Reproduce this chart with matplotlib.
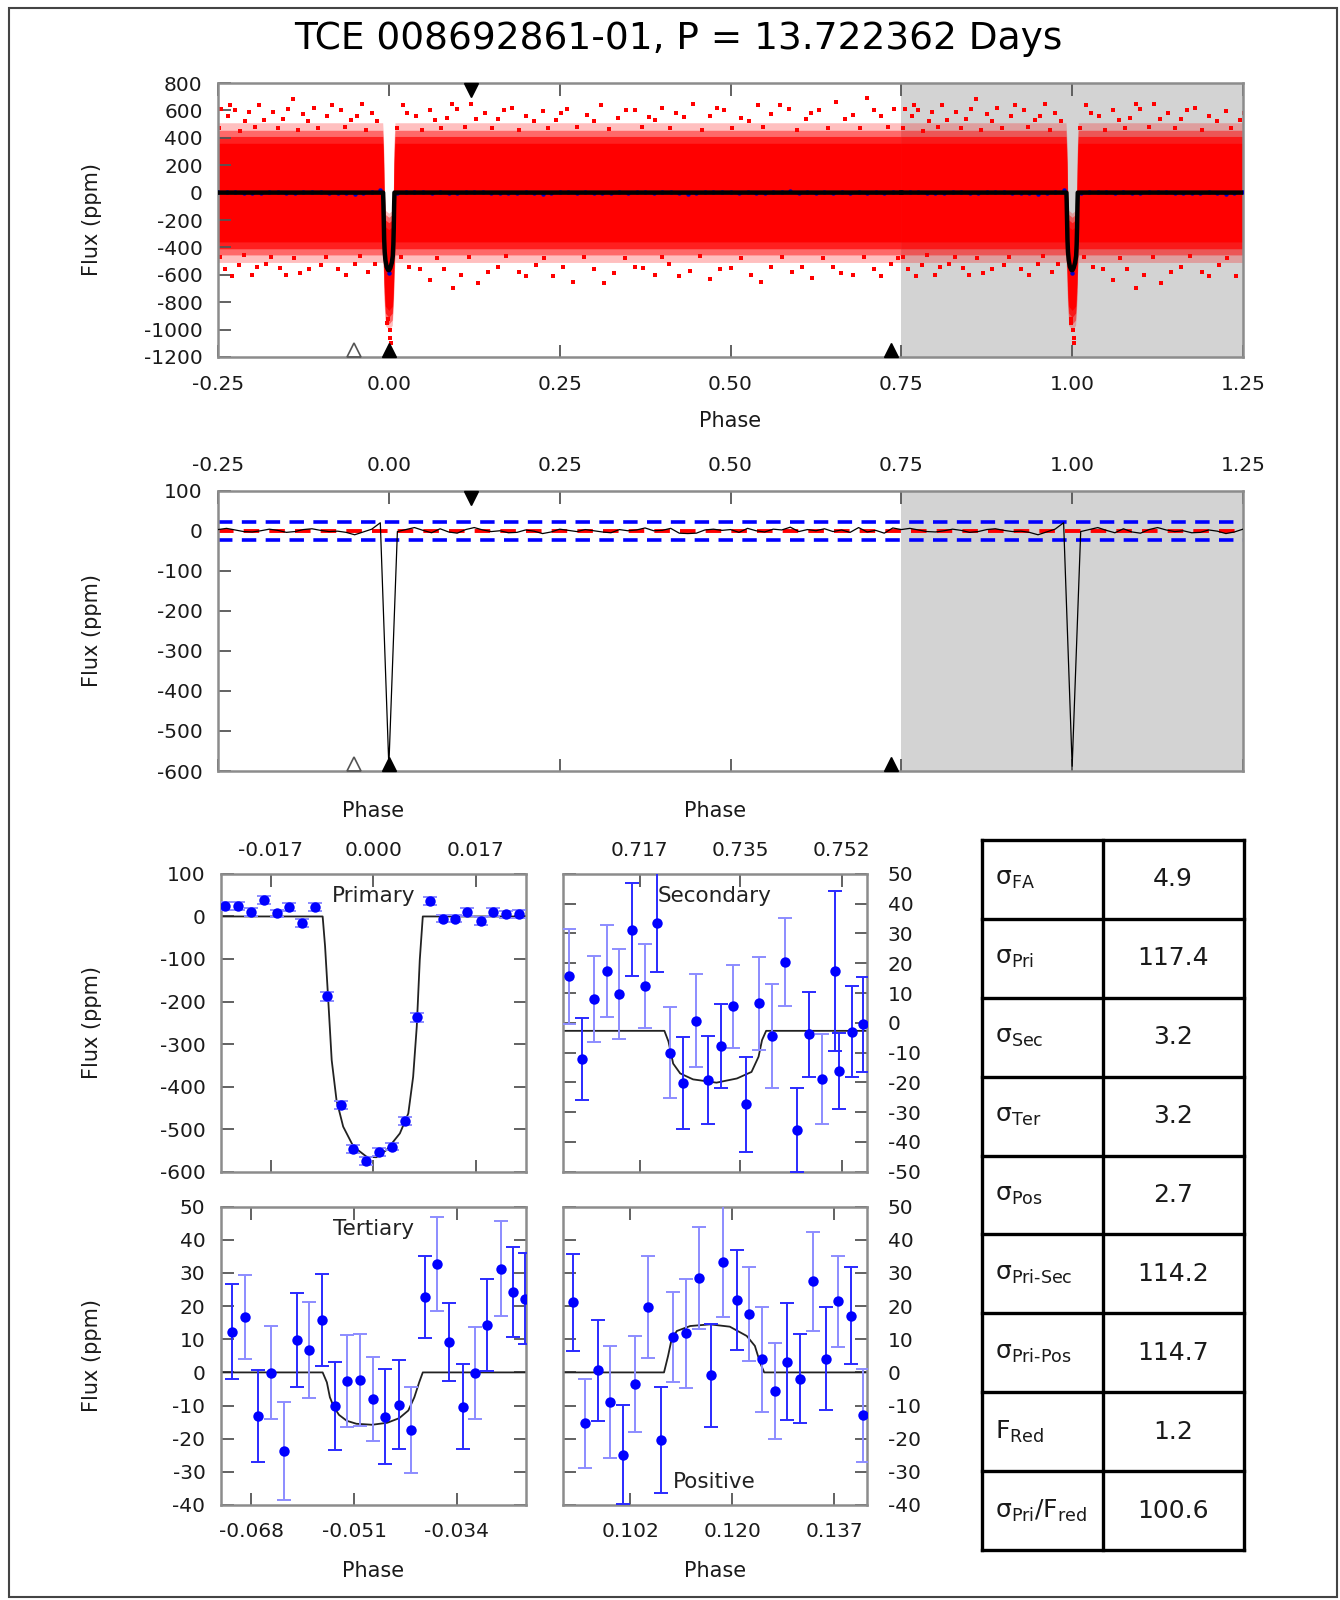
import numpy as np
import matplotlib
matplotlib.use("Agg")
import matplotlib.pyplot as plt
import matplotlib.transforms as mtransforms
from matplotlib.patches import Rectangle

plt.rcParams['font.family'] = ['DejaVu Sans']
plt.rcParams['mathtext.fontset'] = 'dejavusans'
plt.rcParams['axes.unicode_minus'] = False

TITLE = "TCE 008692861-01, P = 13.722362 Days"

# ---------------- event phases (triangle markers) ----------------
phase_primary = 0.0
phase_secondary = 0.735
phase_tertiary = -0.051
phase_positive = 0.120

# ---------------- top panel: red cloud envelopes (one period) ----------------
band_phase = [-0.25, -0.0090, -0.0078, -0.0068, -0.0050, 0.0, 0.0050, 0.0068, 0.0078, 0.0090, 0.75]
core_hi = [360, 360, 220, -100, -250, -270, -250, -100, 220, 360, 360]
core_lo = [-360, -360, -440, -660, -830, -860, -830, -660, -440, -360, -360]
mid_hi = [410, 410, 290, -30, -200, -220, -200, -30, 290, 410, 410]
mid_lo = [-410, -410, -500, -720, -880, -910, -880, -720, -500, -410, -410]
fringe_hi = [455, 455, 340, 20, -160, -180, -160, 20, 340, 455, 455]
fringe_lo = [-455, -455, -550, -770, -930, -960, -930, -770, -550, -455, -455]
outer_hi = [510, 510, 400, 70, -130, -150, -130, 70, 400, 510, 510]
outer_lo = [-510, -510, -600, -820, -970, -1000, -970, -820, -600, -510, -510]

# sparse outlying points of the red cloud (one period)
out_phase = [-0.245, -0.235, -0.225, -0.21, -0.19, -0.17, -0.155, -0.14, -0.125, -0.11,
             -0.09, -0.07, -0.055, -0.04, -0.025, 0.02, 0.04, 0.06, 0.085, 0.10,
             0.12, 0.14, 0.16, 0.18, 0.20, 0.225, 0.245, 0.26, 0.29, 0.31,
             0.335, 0.36, 0.38, 0.40, 0.42, 0.445, 0.47, 0.49, 0.515, 0.54,
             0.56, 0.585, 0.61, 0.63, 0.655, 0.68, 0.70, 0.72, 0.74,
             -0.248, -0.232, -0.218, -0.205, -0.196, -0.183, -0.162, -0.148, -0.133, -0.118,
             -0.103, -0.083, -0.064, -0.047, -0.033, -0.017, 0.012, 0.027, 0.048, 0.068,
             0.077, 0.093, 0.112, 0.128, 0.151, 0.168, 0.19, 0.212, 0.233, 0.252,
             0.275, 0.30, 0.322, 0.347, 0.37, 0.39, 0.412, 0.432, 0.458, 0.48,
             0.502, 0.527, 0.548, 0.572, 0.597, 0.618, 0.642, 0.667, 0.69, 0.71, 0.73,
             -0.24, -0.22, -0.20, -0.18, -0.16, -0.13, -0.10, -0.075, -0.05, -0.03,
             0.03, 0.06, 0.08, 0.105, 0.13, 0.16, 0.19, 0.215, 0.24, 0.27,
             0.30, 0.33, 0.36, 0.39, 0.41, 0.44, 0.47, 0.50, 0.53, 0.56,
             0.59, 0.62, 0.65, 0.68, 0.71, 0.735,
             -0.247, -0.229, -0.212, -0.193, -0.172, -0.151, -0.139, -0.117, -0.092, -0.063,
             -0.042, -0.02, 0.018, 0.045, 0.07, 0.094, 0.118, 0.145, 0.172, 0.20,
             0.227, 0.255, 0.285, 0.315, 0.345, 0.372, 0.40, 0.425, 0.455, 0.485,
             0.515, 0.545, 0.575, 0.605, 0.635, 0.662, 0.695, 0.72, 0.745,
             -0.002, 0.001, 0.002, -0.001, 0.003]
out_flux = [610, 560, 600, 520, 640, 590, 540, 680, 575, 620,
            560, 600, 530, 650, 580, 640, 560, 600, 545, 610,
            650, 580, 540, 620, 560, 595, 530, 610, 570, 640,
            545, 600, 555, 620, 580, 650, 560, 600, 545, 640,
            575, 610, 540, 600, 660, 570, 690, 560, 610,
            470, 640, 450, 590, 480, 530, 470, 610, 455, 520,
            470, 640, 480, 560, 460, 520, 470, 580, 460, 530,
            470, 650, 480, 540, 470, 600, 455, 520, 470, 580,
            480, 520, 465, 600, 480, 530, 470, 550, 460, 620,
            470, 520, 480, 640, 460, 580, 475, 540, 470, 600, 480,
            -560, -530, -600, -520, -550, -590, -530, -560, -520, -580,
            -540, -640, -560, -600, -660, -540, -580, -530, -610, -650,
            -560, -590, -540, -600, -520, -570, -630, -550, -600, -540,
            -580, -620, -540, -600, -560, -520,
            -470, -610, -455, -540, -470, -600, -480, -560, -470, -600,
            -465, -520, -470, -560, -480, -700, -470, -580, -460, -610,
            -475, -540, -470, -660, -480, -550, -470, -610, -465, -560,
            -480, -650, -470, -540, -480, -590, -470, -610, -480,
            -950, -1000, -1060, -920, -1100]

# ---------------- binned folded flux (one period, second panel & blue dots) ----------------
bin_phase = np.linspace(-0.25, 0.7375, 80)
bin_flux = [3, 6, 2, -2, -3, 0, 4, 1, -4, -2,
            3, 5, 1, -2, -1, -4, -10, -3, 4, 20,
            -588, -2, 3, 8, 1, -5, 5, -3, -6, 3,
            8, 2, -2, 0, -5, -4, 2, -1, -7, -3,
            4, 1, -2, 3, 0, -3, -5, 3, 0, 2,
            7, 0, 1, 6, -6, -7, -6, 2, 4, 1,
            3, -4, 6, 0, -3, 4, 2, 9, -2, 3,
            0, 5, -2, 2, -4, 8, -3, 1, -6, 7]
detect_level = 22.5

# ---------------- primary ----------------
pri_phase = [-0.0246, -0.0224, -0.0203, -0.0181, -0.0160, -0.0139, -0.0118, -0.0097, -0.0076, -0.0054,
             -0.0033, -0.0012, 0.0009, 0.0031, 0.0052, 0.0073, 0.0094, 0.0115, 0.0136, 0.0156,
             0.0178, 0.0199, 0.0220, 0.0242]
pri_flux = [25, 25, 11, 39, 7, 22, -16, 23, -188, -443,
            -547, -575, -554, -541, -481, -237, 36, -5, -5, 11,
            -10, 11, 5, 6]
pri_err = [9, 9, 9, 9, 9, 9, 9, 9, 10, 10, 9, 9, 9, 9, 10, 10, 9, 9, 9, 9, 9, 9, 9, 9]
pri_light = [1] * 24
pri_model_phase = [-0.0253, -0.0084, -0.0080, -0.0075, -0.0069, -0.0061, -0.0050, -0.0033, -0.0011,
                   0.0005, 0.0022, 0.0044, 0.0058, 0.0066, 0.0072, 0.0077, 0.0082, 0.0253]
pri_model_flux = [0, 0, -70, -190, -338, -432, -494, -541, -565,
                  -566, -549, -510, -463, -377, -259, -102, 0, 0]

# ---------------- secondary ----------------
sec_phase = [0.7054, 0.7076, 0.7097, 0.7118, 0.7140, 0.7162, 0.7184, 0.7205, 0.7227, 0.7248,
             0.7271, 0.7292, 0.7313, 0.7335, 0.7357, 0.7379, 0.7401, 0.7423, 0.7443, 0.7465,
             0.7487, 0.7509, 0.7515, 0.7537, 0.7557]
sec_flux = [15.6, -12.2, 7.9, 17.3, 9.7, 31.3, 12.4, 33.6, -10.0, -20.2,
            0.7, -19.3, -7.8, 5.5, -27.4, 6.6, -4.4, 20.3, -36.0, -3.9,
            -18.9, 17.4, -16.1, -3.0, -0.5]
sec_err = [16, 13.7, 14.5, 15.4, 15.2, 15.5, 14, 16.6, 15.4, 15.5,
           15.6, 14.7, 14.2, 13.9, 15.9, 15.6, 17.5, 14.8, 14.2, 14.3,
           15.2, 27, 12.7, 15.2, 16]
sec_light = [1, 0, 1, 1, 1, 0, 1, 0, 1, 0, 1, 0, 0, 1, 0, 1, 1, 1, 0, 0, 1, 0, 0, 0, 0]
sec_model_phase = [0.7043, 0.7217, 0.7224, 0.7232, 0.7244, 0.7266, 0.7306, 0.7341, 0.7366,
                   0.7378, 0.7384, 0.7391, 0.7563]
sec_model_flux = [-2.7, -2.7, -6.3, -13.7, -17.0, -19.0, -20.1, -18.7, -16.5, -11.4, -5.8, -2.7, -2.7]

# ---------------- tertiary ----------------
ter_phase = [-0.0712, -0.0690, -0.0669, -0.0648, -0.0626, -0.0605, -0.0585, -0.0563, -0.0542, -0.0522,
             -0.0500, -0.0479, -0.0458, -0.0436, -0.0416, -0.0393, -0.0372, -0.0352, -0.0330, -0.0310,
             -0.0289, -0.0267, -0.0246, -0.0226]
ter_flux = [12.3, 16.7, -13.1, -0.1, -23.7, 9.8, 6.7, 15.8, -10.2, -2.6,
            -2.3, -8.0, -13.4, -9.7, -17.4, 22.8, 32.7, 9.2, -10.4, -0.3,
            14.3, 31.3, 24.3, 22.3]
ter_err = [14.4, 12.6, 13.8, 14, 14.8, 14.2, 14.4, 14, 13.3, 13.9,
           13.9, 12.8, 14.3, 13.3, 12.9, 12.4, 14.3, 11.7, 12.8, 13.9,
           13.9, 14.4, 13.6, 13.7]
ter_light = [0, 1, 0, 1, 1, 0, 1, 0, 0, 1, 1, 1, 0, 0, 1, 0, 1, 0, 0, 1, 0, 1, 0, 0]
ter_model_phase = [-0.0731, -0.0562, -0.0555, -0.0550, -0.0544, -0.0535, -0.0522, -0.0506, -0.0480,
                   -0.0455, -0.0435, -0.0420, -0.0410, -0.0402, -0.0396, -0.0225]
ter_model_flux = [0, 0, -3, -7.5, -10.2, -12.8, -14.6, -15.5, -15.8, -15.2, -13.8, -11.5, -7.5, -3, 0, 0]

# ---------------- positive ----------------
pos_phase = [0.0926, 0.0947, 0.0969, 0.0990, 0.1012, 0.1034, 0.1055, 0.1078, 0.1099, 0.1121,
             0.1143, 0.1164, 0.1185, 0.1208, 0.1229, 0.1251, 0.1274, 0.1295, 0.1316, 0.1339,
             0.1361, 0.1382, 0.1404, 0.1425]
pos_flux = [21.1, -15.3, 0.6, -8.9, -24.8, -3.6, 19.8, -20.5, 10.7, 11.8,
            28.5, -0.9, 33.4, 21.9, 17.6, 3.9, -5.7, 3.2, -1.9, 27.5,
            4.1, 21.4, 17.1, -13.0]
pos_err = [14.6, 13.4, 15.3, 17, 15, 14.5, 15.4, 16, 13.5, 16.5,
           15.3, 15.6, 16.7, 15.1, 14.1, 15.9, 14.5, 17.6, 13.4, 15,
           15.5, 13.6, 14.6, 13.9]
pos_light = [0, 1, 0, 1, 0, 1, 1, 0, 1, 1, 1, 0, 1, 0, 1, 1, 1, 0, 0, 1, 0, 1, 0, 1]
pos_model_phase = [0.0909, 0.1083, 0.1090, 0.1096, 0.1105, 0.1128, 0.1162, 0.1196, 0.1225,
                   0.1239, 0.1248, 0.1255, 0.1431]
pos_model_flux = [0, 0, 5, 10, 12.5, 14, 14.5, 13.8, 11, 8, 2.9, 0, 0]

# ---------------- table ----------------
table_labels = ['σ$_{\\mathrm{FA}}$', 'σ$_{\\mathrm{Pri}}$', 'σ$_{\\mathrm{Sec}}$', 'σ$_{\\mathrm{Ter}}$',
                'σ$_{\\mathrm{Pos}}$', 'σ$_{\\mathrm{Pri\u2010Sec}}$', 'σ$_{\\mathrm{Pri\u2010Pos}}$',
                'F$_{\\mathrm{Red}}$', 'σ$_{\\mathrm{Pri}}$/F$_{\\mathrm{red}}$']
table_values = ['4.9', '117.4', '3.2', '3.2', '2.7', '114.2', '114.7', '1.2', '100.6']

# =====================================================================
W, H = 1340, 1600
fig = plt.figure(figsize=(W / 100, H / 100), dpi=100)

SPINE = '#8c8c8c'
TICKC = '#555555'
TXT = '#1a1a1a'
LS = 14.5


def style(ax, left=True, right=False, top=True, bottom=True, xpad=10, ypad=10):
    for s in ax.spines.values():
        s.set_color(SPINE)
        s.set_linewidth(1.8)
    ax.tick_params(direction='in', length=9, width=1.3, color=TICKC, labelsize=LS,
                   labelcolor=TXT, left=left, right=right, top=top, bottom=bottom)
    ax.tick_params(axis='x', pad=xpad)
    ax.tick_params(axis='y', pad=ypad)


def events(ax):
    tr = mtransforms.blended_transform_factory(ax.transData, ax.transAxes)
    ax.plot([phase_positive], [0.974], marker='v', ms=10, color='k', transform=tr, clip_on=False, zorder=10)
    ax.plot([phase_primary, phase_secondary], [0.026, 0.026], ls='none', marker='^', ms=10, color='k',
            transform=tr, clip_on=False, zorder=10)
    ax.plot([phase_tertiary], [0.026], marker='^', ms=10, mfc='none', mec='#555555', mew=1.2,
            transform=tr, clip_on=False, zorder=10)


def ylab(ax, xfrac):
    ax.set_ylabel('Flux (ppm)', fontsize=15, color=TXT)
    ax.yaxis.label.set_va('center')
    ax.yaxis.set_label_coords(xfrac, 0.5)


# ---------------- top panel ----------------
ax1 = fig.add_axes([0.1627, 0.7769, 0.7649, 0.1712])
style(ax1, xpad=13, ypad=11)
ax1.axvspan(0.75, 1.25, color='#d3d3d3', lw=0, zorder=0)
for shift in (0, 1):
    bp = np.asarray(band_phase) + shift
    ax1.fill_between(bp, outer_lo, outer_hi, color='#ff0000', alpha=0.25, lw=0, zorder=1)
    ax1.fill_between(bp, fringe_lo, fringe_hi, color='#ff0000', alpha=0.45, lw=0, zorder=1)
    ax1.fill_between(bp, mid_lo, mid_hi, color='#ff0000', alpha=0.7, lw=0, zorder=1)
    ax1.fill_between(bp, core_lo, core_hi, color='#ff0000', lw=0, zorder=1)
    ax1.plot(np.asarray(out_phase) + shift, out_flux, 's', ms=2.3, color='#ff0000', mew=0, zorder=2)
    ax1.plot(bin_phase + shift, bin_flux, 'o', ms=3.2, color='#0000cc', mew=0, zorder=3)
    mp = np.r_[-0.25, pri_model_phase[1:-1], 0.75] + shift
    mf = np.r_[0, pri_model_flux[1:-1], 0]
    ax1.plot(mp, mf, color='k', lw=3.2, zorder=4)
ax1.set_xlim(-0.25, 1.25)
ax1.set_ylim(-1200, 800)
ax1.set_xticks([-0.25, 0.0, 0.25, 0.5, 0.75, 1.0, 1.25])
ax1.set_xticklabels(['-0.25', '0.00', '0.25', '0.50', '0.75', '1.00', '1.25'])
ax1.set_yticks(np.arange(-1200, 801, 200))
ax1.set_xlabel('Phase', fontsize=15, color=TXT)
ax1.xaxis.label.set_va('center')
ax1.xaxis.set_label_coords(0.5, -0.232)
ylab(ax1, -0.1229)
events(ax1)

# ---------------- second panel ----------------
ax2 = fig.add_axes([0.1627, 0.5181, 0.7649, 0.1752])
style(ax2, xpad=11, ypad=11)
ax2.tick_params(axis='x', labeltop=True, labelbottom=False)
ax2.axvspan(0.75, 1.25, color='#d3d3d3', lw=0, zorder=0)
ax2.axhline(detect_level, color='#0000ff', lw=2.6, ls=(0, (4, 2.6)), zorder=2)
ax2.axhline(-detect_level, color='#0000ff', lw=2.6, ls=(0, (4, 2.6)), zorder=2)
ax2.axhline(0, color='#ff0000', lw=2.8, ls=(0, (4, 2.6)), zorder=2)
cp = np.concatenate([bin_phase, bin_phase + 1])
cf = list(bin_flux) + list(bin_flux)
ax2.plot(cp, cf, color='k', lw=0.9, zorder=3)
ax2.set_xlim(-0.25, 1.25)
ax2.set_ylim(-600, 100)
ax2.set_xticks([-0.25, 0.0, 0.25, 0.5, 0.75, 1.0, 1.25])
ax2.set_xticklabels(['-0.25', '0.00', '0.25', '0.50', '0.75', '1.00', '1.25'])
ax2.set_yticks(np.arange(-600, 101, 100))
ylab(ax2, -0.1229)
events(ax2)


# ---------------- small panels ----------------
def small(rect, ph, fl, er, light, mph, mfl, xlim, ylim, yticks, xticks, xlabels, name, name_y,
          xtop, yright):
    ax = fig.add_axes(rect)
    style(ax, left=True, right=True, top=True, bottom=True, xpad=10 if xtop else 12,
          ypad=15 if yright else 11)
    if xtop:
        ax.tick_params(axis='x', labeltop=True, labelbottom=False)
    if yright:
        ax.tick_params(axis='y', labelleft=False, labelright=True)
    ph = np.asarray(ph); fl = np.asarray(fl); er = np.asarray(er); lt = np.asarray(light, bool)
    ax.plot(mph, mfl, color='#222222', lw=1.3, zorder=2)
    ax.errorbar(ph[lt], fl[lt], yerr=er[lt], fmt='none', ecolor='#8c8cff', elinewidth=1.4,
                capsize=5, capthick=1.4, zorder=3)
    ax.errorbar(ph[~lt], fl[~lt], yerr=er[~lt], fmt='none', ecolor='#2a2aff', elinewidth=1.4,
                capsize=5, capthick=1.4, zorder=3)
    ax.plot(ph, fl, 'o', color='#0000ff', ms=7.5, mew=0, zorder=4)
    ax.set_xlim(*xlim)
    ax.set_ylim(*ylim)
    ax.set_yticks(yticks)
    ax.set_xticks(xticks)
    ax.set_xticklabels(xlabels)
    ax.text(0.5, name_y, name, transform=ax.transAxes, ha='center', va='center', fontsize=15.5,
            color='#222222', zorder=6)
    ax.set_xlabel('Phase', fontsize=15, color=TXT)
    ax.xaxis.label.set_va('center')
    if xtop:
        ax.xaxis.set_label_position('top')
        ax.xaxis.set_label_coords(0.5, 1.19)
    else:
        ax.xaxis.set_label_coords(0.5, -0.222)
    return ax


axp = small([0.1647, 0.2677, 0.2278, 0.1861], pri_phase, pri_flux, pri_err, pri_light,
            pri_model_phase, pri_model_flux, (-0.0253, 0.0253), (-600, 100),
            np.arange(-600, 101, 100), [-0.017, 0.0, 0.017], ['-0.017', '0.000', '0.017'],
            'Primary', 0.926, True, False)
ylab(axp, -0.4214)

axs = small([0.4199, 0.2677, 0.2269, 0.1861], sec_phase, sec_flux, sec_err, sec_light,
            sec_model_phase, sec_model_flux, (0.7043, 0.7563), (-50, 50),
            np.arange(-50, 51, 10), [0.7175, 0.7347, 0.7520], ['0.717', '0.735', '0.752'],
            'Secondary', 0.926, True, True)

axt = small([0.1647, 0.0594, 0.2278, 0.1864], ter_phase, ter_flux, ter_err, ter_light,
            ter_model_phase, ter_model_flux, (-0.0731, -0.0225), (-40, 50),
            np.arange(-40, 51, 10), [-0.068, -0.051, -0.034], ['-0.068', '-0.051', '-0.034'],
            'Tertiary', 0.925, False, False)
ylab(axt, -0.4214)

axq = small([0.4199, 0.0594, 0.2269, 0.1864], pos_phase, pos_flux, pos_err, pos_light,
            pos_model_phase, pos_model_flux, (0.0909, 0.1431), (-40, 50),
            np.arange(-40, 51, 10), [0.1025, 0.1200, 0.1375], ['0.102', '0.120', '0.137'],
            'Positive', 0.077, False, True)

# ---------------- table ----------------
axT = fig.add_axes([0.7326, 0.03125, 0.1958, 0.44375])
n = len(table_labels)
axT.set_xlim(0, 1)
axT.set_ylim(0, n)
axT.axis('off')
for i in range(n + 1):
    axT.plot([0, 1], [i, i], color='k', lw=2.4, solid_capstyle='projecting', clip_on=False)
for xv in (0, 0.4636, 1):
    axT.plot([xv, xv], [0, n], color='k', lw=2.4, solid_capstyle='projecting', clip_on=False)
for i, (lab, val) in enumerate(zip(table_labels, table_values)):
    yc = n - i - 0.5
    axT.text(0.05, yc, lab, ha='left', va='center', fontsize=18, color=TXT)
    axT.text(0.729, yc, val, ha='center', va='center', fontsize=18, color=TXT)

# ---------------- title & frame ----------------
fig.text(0.506, 1 - 39 / H, TITLE, ha='center', va='center', fontsize=27, color='k')
fig.patches.append(Rectangle((9 / W, 3 / H), (1337 - 9) / W, (1592 - 3) / H, transform=fig.transFigure,
                             fill=False, ec='#444444', lw=1.5))

fig.savefig('out.png', dpi=100)
